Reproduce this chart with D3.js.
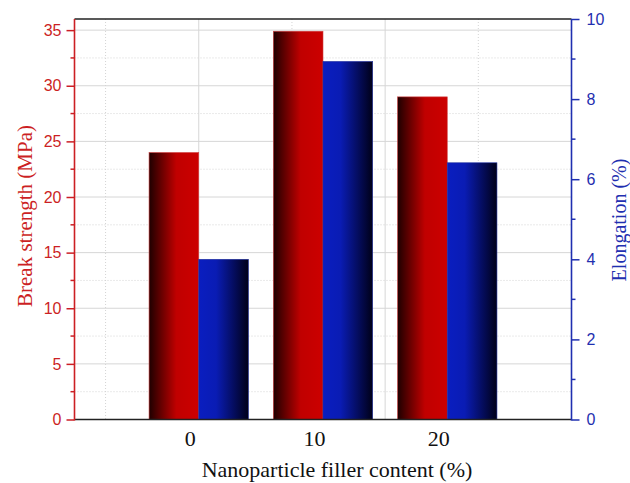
<!DOCTYPE html>
<html><head><meta charset="utf-8">
<script src="https://cdn.jsdelivr.net/npm/d3@7"></script>
<style>body{margin:0;background:#fff}svg{display:block}</style>
</head><body>
<svg id="c" width="630" height="483"></svg>
<script>
const categories = [0, 10, 20];
const breakStrength = [24, 34.9, 29];
const elongation = [4.0, 8.94, 6.41];
const leftTicks = [0, 5, 10, 15, 20, 25, 30, 35];
const rightTicks = [0, 2, 4, 6, 8, 10];
const xLabel = "Nanoparticle filler content (%)";
const leftLabel = "Break strength (MPa)";
const rightLabel = "Elongation (%)";

const svg = d3.select("#c");
const L = 74.5, R = 571.5, T = 19, B = 419.5;
const x = d3.scaleLinear().domain([-10, 30]).range([L, R]);
const yL = d3.scaleLinear().domain([0, 36]).range([B, T]);
const yR = d3.scaleLinear().domain([0, 10]).range([B, T]);
const barW = 4;
const red = "#cc1f24", blue = "#1f2fb0";

const defs = svg.append("defs");
const gr = defs.append("linearGradient").attr("id", "gRed");
[[0, "#1e0000"], [0.55, "#c00000"], [1, "#cc0000"]].forEach(s => gr.append("stop").attr("offset", s[0]).attr("stop-color", s[1]));
const gb = defs.append("linearGradient").attr("id", "gBlue");
[[0, "#0a1ec0"], [0.35, "#0a1cb4"], [1, "#000018"]].forEach(s => gb.append("stop").attr("offset", s[0]).attr("stop-color", s[1]));

// grid
const g = svg.append("g");
d3.range(2.5, 36, 5).forEach(v => g.append("line").attr("x1", L).attr("x2", R).attr("y1", yL(v)).attr("y2", yL(v)).attr("stroke", "#d4d4d4").attr("stroke-dasharray", "1,2"));
d3.range(5, 36, 5).forEach(v => g.append("line").attr("x1", L).attr("x2", R).attr("y1", yL(v)).attr("y2", yL(v)).attr("stroke", "#d6d6d6"));
[-7.5, 7.5, 22.5].forEach(v => g.append("line").attr("y1", T).attr("y2", B).attr("x1", x(v)).attr("x2", x(v)).attr("stroke", "#d4d4d4").attr("stroke-dasharray", "1,2"));
[0, 15].forEach(v => g.append("line").attr("y1", T).attr("y2", B).attr("x1", x(v)).attr("x2", x(v)).attr("stroke", "#d6d6d6"));

// bars
svg.append("g").selectAll("rect").data(categories).join("rect")
  .attr("x", (d) => x(d - barW)).attr("width", (d) => x(d) - x(d - barW))
  .attr("y", (d, i) => yL(breakStrength[i])).attr("height", (d, i) => B - yL(breakStrength[i]))
  .attr("fill", "url(#gRed)").attr("stroke", "#d04040").attr("stroke-width", 0.6);
svg.append("g").selectAll("rect").data(categories).join("rect")
  .attr("x", (d) => x(d)).attr("width", (d) => x(d + barW) - x(d))
  .attr("y", (d, i) => yR(elongation[i])).attr("height", (d, i) => B - yR(elongation[i]))
  .attr("fill", "url(#gBlue)").attr("stroke", "#2030a0").attr("stroke-width", 0.6);

// frame
svg.append("line").attr("x1", L).attr("x2", R).attr("y1", T).attr("y2", T).attr("stroke", "#222").attr("stroke-width", 1.6);
svg.append("line").attr("x1", L).attr("x2", R).attr("y1", B).attr("y2", B).attr("stroke", "#222").attr("stroke-width", 1.6);

// left axis
const la = svg.append("g").attr("transform", `translate(${L},0)`)
  .call(d3.axisLeft(yL).tickValues(leftTicks).tickSize(8).tickPadding(5));
la.select(".domain").remove();
la.selectAll("line").attr("stroke", red).attr("stroke-width", 1.5);
la.selectAll("text").attr("fill", red).attr("font-family", "Liberation Sans, Arial, sans-serif").attr("font-size", 16);
svg.append("g").attr("transform", `translate(${L},0)`).selectAll("line").data(d3.range(2.5, 36, 5)).join("line")
  .attr("x1", -4).attr("x2", 0).attr("y1", d => yL(d)).attr("y2", d => yL(d)).attr("stroke", red).attr("stroke-width", 1.5);
svg.append("line").attr("x1", L).attr("x2", L).attr("y1", T).attr("y2", B + 1).attr("stroke", red).attr("stroke-width", 1.6);

// right axis
const ra = svg.append("g").attr("transform", `translate(${R},0)`)
  .call(d3.axisRight(yR).tickValues(rightTicks).tickSize(8).tickPadding(7));
ra.select(".domain").remove();
ra.selectAll("line").attr("stroke", blue).attr("stroke-width", 1.5);
ra.selectAll("text").attr("fill", blue).attr("font-family", "Liberation Sans, Arial, sans-serif").attr("font-size", 16);
svg.append("g").attr("transform", `translate(${R},0)`).selectAll("line").data(d3.range(1, 10, 2)).join("line")
  .attr("x1", 0).attr("x2", 4).attr("y1", d => yR(d)).attr("y2", d => yR(d)).attr("stroke", blue).attr("stroke-width", 1.5);
svg.append("line").attr("x1", R).attr("x2", R).attr("y1", T).attr("y2", B + 1).attr("stroke", blue).attr("stroke-width", 1.6);

// bottom axis labels
const ba = svg.append("g").attr("transform", `translate(0,${B})`)
  .call(d3.axisBottom(x).tickValues(categories).tickSize(0).tickPadding(11));
ba.select(".domain").remove();
ba.selectAll("text").attr("fill", "#111").attr("font-family", "Liberation Serif, Times New Roman, serif").attr("font-size", 22).attr("dx", -9);

// titles
svg.append("text").attr("x", 337).attr("y", 477).attr("text-anchor", "middle")
  .attr("font-family", "Liberation Serif, Times New Roman, serif").attr("font-size", 22).attr("fill", "#111").text(xLabel);
svg.append("text").attr("transform", "translate(32,216) rotate(-90)").attr("text-anchor", "middle")
  .attr("font-family", "Liberation Serif, Times New Roman, serif").attr("font-size", 21).attr("fill", red).text(leftLabel);
svg.append("text").attr("transform", "translate(626,220) rotate(-90)").attr("text-anchor", "middle")
  .attr("font-family", "Liberation Serif, Times New Roman, serif").attr("font-size", 20).attr("fill", blue).text(rightLabel);
</script>
</body></html>
